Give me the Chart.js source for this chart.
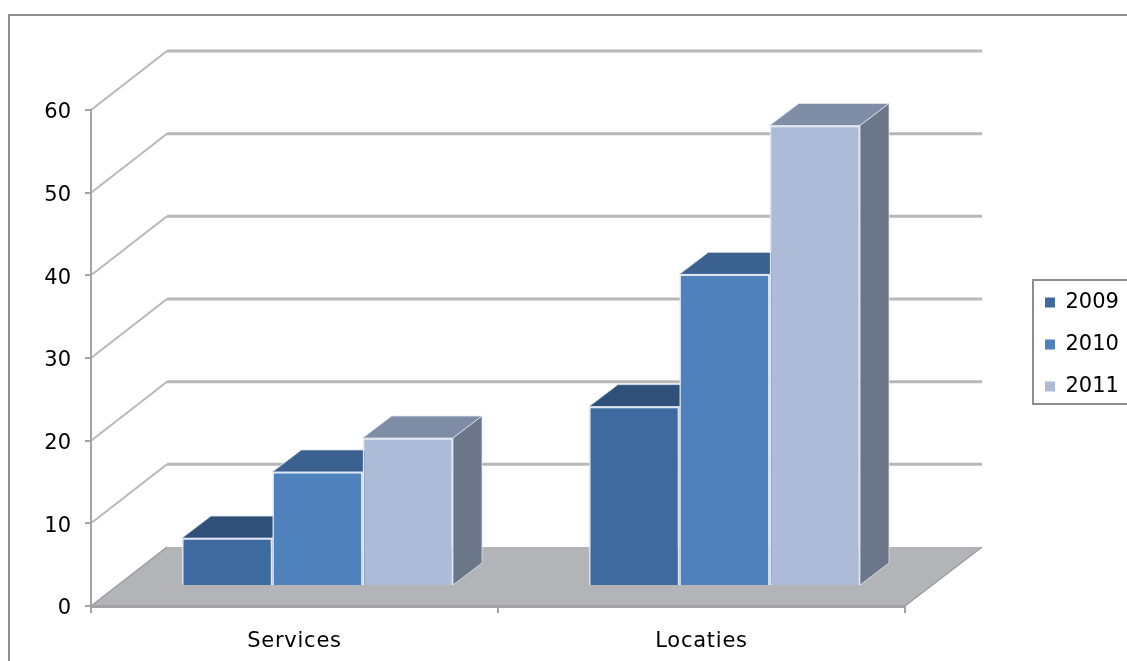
<!DOCTYPE html>
<html><head><meta charset="utf-8">
<style>html,body{margin:0;padding:0;background:#fff;overflow:hidden}canvas{display:block}</style>
<script src="https://cdn.jsdelivr.net/npm/chart.js@4"></script>
</head><body><canvas id="c" width="1127" height="661"></canvas>
<script>
const categories = ['Services', 'Locaties'];
const seriesNames = ['2009', '2010', '2011'];
const values2009 = [5.8, 21.7];
const values2010 = [13.8, 37.7];
const values2011 = [17.9, 55.7];
const frontColors = ['#3f6a9f', '#4f81bd', '#adbbd8'];
const topColors = ['#2f5079', '#3b6191', '#808da6'];
const sideColors = ['#2f4663', '#3b5675', '#6b7688'];
const FONT = '"DejaVu Sans", Verdana, sans-serif';
const GRID = '#b8b8b8', AXIS = '#a3a3a3', EDGE = '#dfe6f1';
const WALL = {dx: 76, dy: -59}, BAR = {dx: 23, dy: -20}, DEPTH = {dx: 29, dy: -22};

function poly(ctx, pts, fill, stroke, lw) {
  ctx.beginPath();
  pts.forEach((p, i) => i ? ctx.lineTo(p[0], p[1]) : ctx.moveTo(p[0], p[1]));
  ctx.closePath();
  if (fill) { ctx.fillStyle = fill; ctx.fill(); }
  if (stroke) { ctx.strokeStyle = stroke; ctx.lineWidth = lw || 1; ctx.stroke(); }
}

const scene = {
  id: 'scene',
  afterLayout(chart) {
    const l = chart.legend;
    l.left = 1024; l.right = 1127; l.top = 271; l.bottom = 661; l.width = 103; l.height = 390;
  },
  beforeDraw(chart) {
    const ctx = chart.ctx, y = chart.scales.y, x = chart.scales.x;
    const L = x.left, R = x.right;
    ctx.save();
    ctx.fillStyle = '#fff'; ctx.fillRect(0, 0, chart.width, chart.height);
    ctx.strokeStyle = '#8e8e8e'; ctx.lineWidth = 2;
    ctx.strokeRect(9, 15, 1200, 800);
    ctx.strokeRect(1033, 280, 200, 124);
    // back wall grid lines
    y.ticks.forEach(t => {
      if (t.value === 0) return;
      const py = y.getPixelForValue(t.value);
      ctx.beginPath();
      ctx.moveTo(L, py);
      ctx.lineTo(L + WALL.dx, py + WALL.dy);
      ctx.strokeStyle = GRID; ctx.lineWidth = 2; ctx.stroke();
      ctx.beginPath();
      ctx.moveTo(L + WALL.dx, py + WALL.dy);
      ctx.lineTo(R + WALL.dx + 1, py + WALL.dy);
      ctx.lineWidth = 3; ctx.stroke();
    });
    // floor
    const y0 = y.getPixelForValue(0);
    poly(ctx, [[L, y0], [L + WALL.dx, y0 + WALL.dy], [R + WALL.dx + 1, y0 + WALL.dy], [R, y0]], '#b2b4b8');
    ctx.beginPath();
    ctx.moveTo(L, y0); ctx.lineTo(L + WALL.dx, y0 + WALL.dy);
    ctx.moveTo(R + WALL.dx + 1, y0 + WALL.dy); ctx.lineTo(R, y0);
    ctx.strokeStyle = '#979a9e'; ctx.lineWidth = 1.2; ctx.stroke();
    ctx.restore();
  },
  beforeDatasetsDraw(chart) {
    const ctx = chart.ctx;
    chart.data.datasets.forEach((ds, i) => {
      const meta = chart.getDatasetMeta(i);
      meta.data.forEach(el => {
        const l = el.x - el.width / 2 + BAR.dx, r = el.x + el.width / 2 + BAR.dx;
        const t = el.y + BAR.dy, b = el.base + BAR.dy;
        poly(ctx, [[l, t], [l + DEPTH.dx, t + DEPTH.dy], [r + DEPTH.dx, t + DEPTH.dy], [r, t]], topColors[i], EDGE, 0.8);
        poly(ctx, [[r, t], [r + DEPTH.dx, t + DEPTH.dy], [r + DEPTH.dx, b + DEPTH.dy], [r, b]], sideColors[i], EDGE, 0.8);
      });
      ctx.save();
      ctx.translate(BAR.dx, BAR.dy);
      meta.controller.draw();
      ctx.restore();
    });
    return false;
  }
};

const allValues = [values2009, values2010, values2011];
new Chart(document.getElementById('c'), {
  type: 'bar',
  data: {
    labels: categories,
    datasets: seriesNames.map((n, i) => ({
      label: n, data: allValues[i], backgroundColor: frontColors[i],
      borderColor: EDGE, borderWidth: 1.6
    }))
  },
  options: {
    responsive: false, animation: false, devicePixelRatio: 1,
    layout: {padding: {left: 0, top: 110, right: 222, bottom: 0}},
    barPercentage: 1, categoryPercentage: 0.666,
    plugins: {
      title: {display: false}, tooltip: {enabled: false},
      legend: {
        position: 'chartArea', align: 'start',
        labels: {
          boxWidth: 10, boxHeight: 10, padding: 21, color: '#000',
          font: {family: FONT, size: 21},
          generateLabels(chart) {
            return chart.data.datasets.map((d, i) => ({
              text: d.label, fillStyle: frontColors[i], strokeStyle: frontColors[i],
              lineWidth: 0, datasetIndex: i, fontColor: '#000'
            }));
          }
        }
      }
    },
    scales: {
      x: {
        grid: {drawOnChartArea: false, drawTicks: true, tickLength: 7, color: AXIS, lineWidth: 2},
        border: {color: AXIS, width: 3},
        ticks: {color: '#000', padding: 16, maxRotation: 0, font: {family: FONT, size: 21}},
        afterFit(s) {
          s.height = 55;
          if (!s._spaced) {
            s._spaced = true;
            const orig = s.drawLabels;
            s.drawLabels = function (a) {
              this.ctx.letterSpacing = '0.75px';
              orig.call(this, a);
              this.ctx.letterSpacing = '0px';
            };
          }
        }
      },
      y: {
        min: 0, max: 60,
        grid: {drawOnChartArea: false, drawTicks: true, tickLength: 6, color: AXIS, lineWidth: 2},
        border: {color: AXIS, width: 2},
        ticks: {stepSize: 10, color: '#000', padding: 14, labelOffset: 3, font: {family: FONT, size: 21}},
        afterFit(s) { s.width = 91; }
      }
    }
  },
  plugins: [scene]
});
</script></body></html>
